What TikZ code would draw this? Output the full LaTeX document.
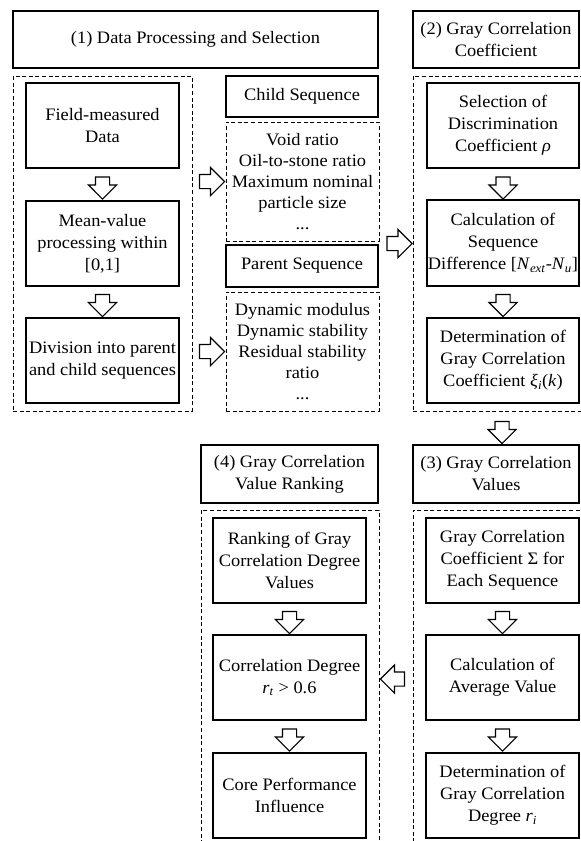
\documentclass[tikz,border=0pt]{standalone}
\usepackage{fontspec}
\setmainfont[FakeStretch=1.05]{Liberation Serif}
\usetikzlibrary{shapes.arrows}
\begin{document}
\begin{tikzpicture}[x=1pt,y=-1pt,
  txt/.style={font=\fontsize{17.5pt}{22pt}\selectfont, align=center},
  sz/.style 2 args={minimum width=#1pt, minimum height=#2pt},
  box/.style={draw, line width=1.1pt, inner sep=0pt, txt},
  lst/.style={draw, line width=0.9pt, dash pattern=on 4pt off 2.6pt, inner sep=0pt, txt, font=\fontsize{17.5pt}{21pt}\selectfont},
  grp/.style={draw, line width=0.9pt, dash pattern=on 4pt off 2.6pt, inner sep=0pt},
  barrow/.style={draw, line width=1.1pt, single arrow, single arrow head extend=7pt,
    single arrow head indent=0pt, inner xsep=0pt, inner ysep=6.5pt, minimum height=#1pt}
]
\useasboundingbox (0,0) rectangle (581,841);
\fill[white] (0,0) rectangle (581,841);

% headers
\node[box, sz={365}{57}] (h1) at (195.5,39.5) {(1) Data Processing and Selection};
\node[box, sz={166}{57}] (h2) at (496,39.5) {(2) Gray Correlation\\Coefficient};
\node[box, sz={177}{58}] (h4) at (289.5,474) {(4) Gray Correlation\\Value Ranking};
\node[box, sz={166}{58}] (h3) at (496,474) {(3) Gray Correlation\\Values};

% dashed groups
\begin{scope}
\clip (0,0) rectangle (581,841);
\node[grp, sz={179}{335}] (g1) at (102.5,243.5) {};
\node[grp, sz={169}{335}] (g2) at (497.5,243.5) {};
\node[grp, sz={178}{350}] (g4) at (290,685) {};
\node[grp, sz={169}{350}] (g3) at (497.5,685) {};
\end{scope}

% column 1
\node[box, sz={153}{85}] (field) at (102.5,125.5) {Field-measured\\Data};
\node[box, sz={153}{85}] (mean) at (102.5,243.5) {Mean-value\\processing within\\{[0,1]}};
\node[box, sz={153}{85}] (div) at (102.5,360.5) {Division into parent\\and child sequences};

% sequences
\node[box, sz={152}{41}] (child) at (302,96.5) {Child Sequence};
\node[lst, sz={153}{119}] (childl) at (302.5,181.5) {Void ratio\\Oil-to-stone ratio\\Maximum nominal\\particle size\\...};
\node[box, sz={152}{42}] (parent) at (302,266) {Parent Sequence};
\node[lst, sz={153}{119}] (parentl) at (302.5,351.5) {Dynamic modulus\\Dynamic stability\\Residual stability\\ratio\\...};

% column (2)
\node[box, sz={152}{85}] (sel) at (503,125.5) {Selection of\\Discrimination\\Coefficient \textit{ρ}};
\node[box, sz={152}{86}] (calc) at (503,243) {Calculation of\\Sequence\\Difference [\textit{N}\textsubscript{\textit{ext}}-\textit{N}\textsubscript{\textit{u}}]};
\node[box, sz={152}{85}] (detc) at (503,360.5) {Determination of\\Gray Correlation\\Coefficient \textit{ξ}\textsubscript{\textit{i}}(\textit{k})};

% column (4)
\node[box, sz={153}{85}] (rank) at (289.5,560.5) {Ranking of Gray\\Correlation Degree\\Values};
\node[box, sz={153}{85}] (corr) at (289.5,677.5) {Correlation Degree\\\textit{r}\textsubscript{\textit{t}} > 0.6};
\node[box, sz={153}{85}] (core) at (289.5,795.5) {Core Performance\\Influence};

% column (3)
\node[box, sz={153}{85}] (gsum) at (502.5,560.5) {Gray Correlation\\Coefficient Σ for\\Each Sequence};
\node[box, sz={153}{85}] (avg) at (502.5,677.5) {Calculation of\\Average Value};
\node[box, sz={153}{85}] (detd) at (502.5,795.5) {Determination of\\Gray Correlation\\Degree \textit{r}\textsubscript{\textit{i}}};

% block arrows
\node[barrow=22, rotate=-90] (a1) at (102.5,184.5) {};
\node[barrow=22, rotate=-90] (a2) at (102.5,302) {};
\node[barrow=22, rotate=-90] (a3) at (503,184.5) {};
\node[barrow=22, rotate=-90] (a4) at (503,302) {};
\node[barrow=22, rotate=-90] (a5) at (502,429) {};
\node[barrow=22, rotate=-90] (a6) at (289.5,619) {};
\node[barrow=22, rotate=-90] (a7) at (289.5,736.5) {};
\node[barrow=22, rotate=-90] (a8) at (502.5,619) {};
\node[barrow=22, rotate=-90] (a9) at (502.5,736.5) {};
\node[barrow=25] (r1) at (208.5,181.5) {};
\node[barrow=25] (r2) at (208.5,351.5) {};
\node[barrow=25] (r3) at (396,243.5) {};
\node[barrow=24, rotate=180] (l1) at (396,679) {};
\end{tikzpicture}
\end{document}
